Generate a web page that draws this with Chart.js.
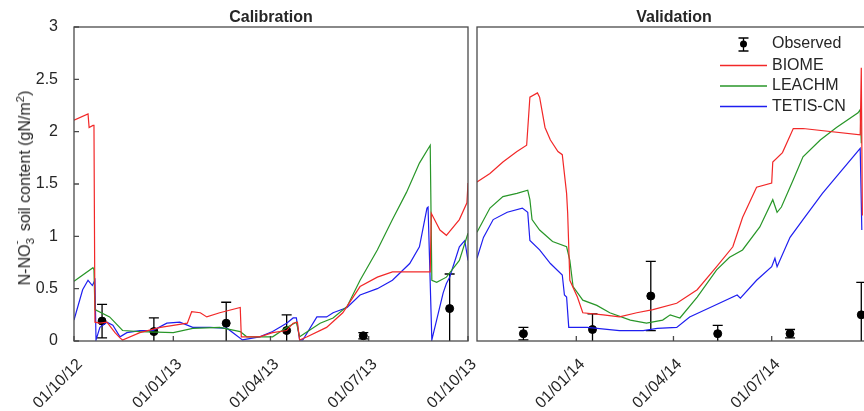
<!DOCTYPE html>
<html>
<head>
<meta charset="utf-8">
<script src="https://cdn.jsdelivr.net/npm/chart.js@4/dist/chart.umd.min.js"></script>
<style>
  html, body { margin: 0; padding: 0; background: #fff; overflow: hidden; width: 864px; height: 411px; }
  #wrap { position: relative; width: 864px; height: 411px; overflow: hidden; font-family: "Liberation Sans", Arial, sans-serif; color: #262626; }
  canvas { position: absolute; top: 0; }
  #cal { left: 0; }
  #val { left: 472px; }
  .title { position: absolute; top: 8px; font-weight: bold; font-size: 16px; transform: translateX(-50%); white-space: nowrap; }
  #ytitle { position: absolute; left: 25px; top: 188px; font-size: 16px; white-space: nowrap; transform: translate(-50%, -50%) rotate(-90deg); }
  .stk { display: inline-block; position: relative; width: 0.55em; height: 1em; vertical-align: -0.15em; }
  .stk span { position: absolute; left: 0; font-size: 0.72em; line-height: 1; }
  .stk .sp { top: -0.45em; }
  .stk .sb { top: 0.75em; }
  sup { font-size: 0.72em; line-height: 0; }
</style>
</head>
<body>
<div id="wrap">
  <canvas id="cal" width="478" height="411"></canvas>
  <canvas id="val" width="408" height="411"></canvas>
  <div class="title" style="left:271px">Calibration</div>
  <div class="title" style="left:674px">Validation</div>
  <div id="ytitle">N-NO<span class="stk"><span class="sp">-</span><span class="sb">3</span></span> soil content (gN/m<sup>2</sup>)</div>
</div>
<script>
// days counted from 01/10/12
const tickDays = [0, 92, 182, 273, 365, 457, 547, 638];
const tickLabels = ['01/10/12', '01/01/13', '01/04/13', '01/07/13', '01/10/13', '01/01/14', '01/04/14', '01/07/14'];
const yTicks = [0, 0.5, 1, 1.5, 2, 2.5, 3];

// Calibration period
const biomeCalDay = [0, 13, 14, 17.6, 18.5, 19.4, 24, 30.5, 38, 42.6, 45, 61, 80, 92, 105, 109, 117, 123, 135, 154, 155, 172, 184, 197, 203, 207, 209, 216, 234, 249, 265, 281, 295, 330, 331, 339, 345, 357, 364, 365];
const biomeCalVal = [2.11, 2.17, 2.04, 2.06, 2.06, 0.18, 0.17, 0.18, 0.08, 0.03, 0.01, 0.08, 0.13, 0.15, 0.17, 0.28, 0.27, 0.23, 0.27, 0.32, 0.04, 0.04, 0.08, 0.10, 0.17, 0.18, 0.01, 0.04, 0.13, 0.27, 0.52, 0.61, 0.66, 0.66, 1.22, 1.06, 1.01, 1.16, 1.32, 1.51];
const leachmCalDay = [0, 17.6, 18.5, 19.4, 33, 45, 61, 92, 110, 135, 154, 160, 184, 197, 206, 209, 228, 240, 253, 265, 281, 295, 308, 320, 330, 331.5, 336, 345, 357, 365];
const leachmCalVal = [0.57, 0.70, 0.68, 0.30, 0.23, 0.10, 0.09, 0.08, 0.12, 0.13, 0.09, 0.04, 0.04, 0.13, 0.18, 0.04, 0.17, 0.22, 0.33, 0.58, 0.87, 1.16, 1.42, 1.70, 1.87, 0.58, 0.56, 0.61, 0.77, 1.03];
const tetisCalDay = [0, 8, 13, 17, 19.4, 20.4, 24, 30.5, 36, 42.6, 49, 61, 73, 86, 98, 110, 126, 142, 156, 172, 184, 197, 203, 206, 209, 212, 225, 234, 240, 253, 265, 281, 295, 311, 320, 327, 328, 331.5, 342, 345, 348, 357, 362, 365];
const tetisCalVal = [0.20, 0.49, 0.58, 0.53, 0.58, 0.01, 0.13, 0.18, 0.15, 0.04, 0.08, 0.10, 0.10, 0.17, 0.18, 0.13, 0.13, 0.12, 0.01, 0.04, 0.09, 0.17, 0.22, 0.22, 0.01, 0.01, 0.23, 0.23, 0.27, 0.32, 0.44, 0.50, 0.58, 0.74, 0.90, 1.27, 1.28, 0.01, 0.46, 0.55, 0.61, 0.90, 0.96, 0.77];
const obsCalDay = [26, 74, 141, 197, 268, 348];
const obsCalVal = [0.19, 0.09, 0.17, 0.10, 0.05, 0.31];
const obsCalErr = [0.16, 0.13, 0.20, 0.15, 0.03, 0.33];

// Validation period
const biomeValDay = [365, 377, 389, 402, 411, 414, 421, 423, 428, 433, 440, 444, 448, 449, 451, 458, 463, 482, 497, 513, 528, 550, 569, 587, 602, 611, 624, 638, 639, 648, 658, 667, 720, 721, 722];
const biomeValVal = [1.52, 1.60, 1.71, 1.81, 1.87, 2.33, 2.37, 2.33, 2.04, 1.92, 1.81, 1.78, 1.41, 1.22, 0.58, 0.42, 0.27, 0.25, 0.23, 0.27, 0.30, 0.36, 0.49, 0.71, 0.90, 1.18, 1.47, 1.51, 1.71, 1.80, 2.03, 2.03, 1.97, 2.61, 1.20];
const leachmValDay = [365, 377, 389, 402, 412, 414, 416, 423, 435, 448, 451, 454, 463, 476, 488, 507, 522, 537, 544, 553, 569, 587, 599, 611, 627, 639, 643, 647, 658, 667, 683, 698, 718, 720, 721];
const leachmValVal = [1.04, 1.27, 1.38, 1.41, 1.44, 1.35, 1.16, 1.06, 0.95, 0.90, 0.77, 0.52, 0.39, 0.34, 0.27, 0.20, 0.17, 0.20, 0.25, 0.22, 0.42, 0.68, 0.80, 0.87, 1.09, 1.35, 1.23, 1.28, 1.54, 1.76, 1.92, 2.04, 2.18, 2.21, 1.89];
const tetisValDay = [365, 371, 380, 393, 407, 412, 414, 423, 433, 444, 446, 448, 450, 467, 497, 519, 532, 550, 562, 581, 606, 609, 624, 638, 641, 643, 655, 667, 685, 698, 720, 721.5];
const tetisValVal = [0.79, 0.99, 1.16, 1.23, 1.27, 1.23, 0.96, 0.87, 0.74, 0.63, 0.44, 0.42, 0.13, 0.13, 0.10, 0.10, 0.12, 0.13, 0.23, 0.32, 0.44, 0.41, 0.58, 0.71, 0.79, 0.71, 0.99, 1.16, 1.41, 1.57, 1.84, 1.06];
const obsValDay = [408, 472, 526, 588, 655, 721];
const obsValVal = [0.07, 0.11, 0.43, 0.07, 0.07, 0.25];
const obsValErr = [0.06, 0.15, 0.33, 0.08, 0.04, 0.31];

const RED = 'rgb(242, 40, 40)';
const GREEN = 'rgb(40, 150, 40)';
const BLUE = 'rgb(30, 30, 240)';
const AXIS = '#4a4a4a';
const TEXT = '#262626';
const FONT = '"Liberation Sans", Arial, sans-serif';

function pts(days, vals) {
    return days.map((d, i) => ({ x: d, y: vals[i] }));
}

function lineSet(label, days, vals, color) {
    return {
        type: 'line', label: label, data: pts(days, vals),
        borderColor: color, borderWidth: 1.2, pointRadius: 0, tension: 0, fill: false
    };
}

function obsSet(days, vals, errs) {
    return {
        type: 'scatter', label: 'Observed', data: pts(days, vals), errors: errs,
        backgroundColor: '#000', borderColor: '#000', pointRadius: 4, pointHoverRadius: 4
    };
}

// box around the panel with inward tick marks
const frame = {
    id: 'frame',
    afterDraw(chart) {
        const { ctx, chartArea: a, scales } = chart;
        ctx.save();
        ctx.strokeStyle = AXIS;
        ctx.lineWidth = 1.3;
        ctx.strokeRect(a.left, a.top, a.right - a.left, a.bottom - a.top);
        ctx.beginPath();
        scales.x.ticks.forEach(t => {
            const px = scales.x.getPixelForValue(t.value);
            ctx.moveTo(px, a.bottom);
            ctx.lineTo(px, a.bottom - 5);
        });
        if (scales.y.options.display) {
            yTicks.forEach(v => {
                const py = scales.y.getPixelForValue(v);
                ctx.moveTo(a.left, py);
                ctx.lineTo(a.left + 5, py);
            });
        }
        ctx.stroke();
        ctx.restore();
    }
};

// vertical error bars for observed points
const errorBars = {
    id: 'errorBars',
    beforeDatasetsDraw(chart) {
        const { ctx, chartArea: a, scales } = chart;
        ctx.save();
        ctx.beginPath();
        ctx.rect(a.left, a.top, a.right - a.left, a.bottom - a.top);
        ctx.clip();
        ctx.strokeStyle = '#000';
        ctx.lineWidth = 1.3;
        chart.data.datasets.forEach(ds => {
            if (!ds.errors) return;
            ds.data.forEach((p, i) => {
                const px = scales.x.getPixelForValue(p.x);
                const hi = scales.y.getPixelForValue(p.y + ds.errors[i]);
                const lo = scales.y.getPixelForValue(p.y - ds.errors[i]);
                ctx.beginPath();
                ctx.moveTo(px, hi); ctx.lineTo(px, lo);
                ctx.moveTo(px - 5, hi); ctx.lineTo(px + 5, hi);
                ctx.moveTo(px - 5, lo); ctx.lineTo(px + 5, lo);
                ctx.stroke();
            });
        });
        ctx.restore();
    }
};

// legend drawn inside the validation panel
const legendBox = {
    id: 'legendBox',
    afterDraw(chart) {
        const ctx = chart.ctx;
        const x0 = 248, x1 = 295, tx = 300;
        const rows = [
            { label: 'Observed', y: 44 },
            { label: 'BIOME', y: 65.5, color: RED },
            { label: 'LEACHM', y: 86, color: GREEN },
            { label: 'TETIS-CN', y: 106.5, color: BLUE }
        ];
        ctx.save();
        ctx.font = '16px ' + FONT;
        ctx.fillStyle = TEXT;
        ctx.textBaseline = 'middle';
        rows.forEach(r => {
            if (r.color) {
                ctx.strokeStyle = r.color;
                ctx.lineWidth = 1.4;
                ctx.beginPath();
                ctx.moveTo(x0, r.y); ctx.lineTo(x1, r.y);
                ctx.stroke();
            } else {
                const cx = (x0 + x1) / 2;
                ctx.strokeStyle = '#000';
                ctx.lineWidth = 1.3;
                ctx.beginPath();
                ctx.moveTo(cx, r.y - 6); ctx.lineTo(cx, r.y + 7);
                ctx.moveTo(cx - 5, r.y - 6); ctx.lineTo(cx + 5, r.y - 6);
                ctx.moveTo(cx - 5, r.y + 7); ctx.lineTo(cx + 5, r.y + 7);
                ctx.stroke();
                ctx.fillStyle = '#000';
                ctx.beginPath();
                ctx.arc(cx, r.y, 3.5, 0, Math.PI * 2);
                ctx.fill();
                ctx.fillStyle = TEXT;
            }
            ctx.fillText(r.label, tx, r.y);
        });
        ctx.restore();
    }
};

function xAxis(min, max, showFirst) {
    return {
        type: 'linear', min: min, max: max,
        grid: { display: false },
        border: { display: false },
        afterBuildTicks: scale => {
            scale.ticks = tickDays
                .filter(d => d >= min && d <= max && (showFirst || d > min))
                .map(d => ({ value: d }));
        },
        afterFit: scale => {
            scale.height = 70;
            scale.paddingLeft = 0;
            scale.paddingRight = 0;
        },
        ticks: {
            autoSkip: false, minRotation: 45, maxRotation: 45,
            padding: 6, labelOffset: 6,
            color: TEXT, font: { family: FONT, size: 16 },
            callback: v => tickLabels[tickDays.indexOf(v)]
        }
    };
}

function yAxis(show) {
    const axis = {
        display: show, min: 0, max: 3,
        grid: { display: false },
        border: { display: false },
        afterBuildTicks: scale => { scale.ticks = yTicks.map(v => ({ value: v })); },
        ticks: {
            padding: 8, color: TEXT, font: { family: FONT, size: 16 },
            callback: v => String(v)
        }
    };
    if (show) axis.afterFit = scale => { scale.width = 74; };
    return axis;
}

const common = {
    responsive: false,
    animation: false,
    devicePixelRatio: 1,
    plugins: { legend: { display: false }, tooltip: { enabled: false } }
};

document.addEventListener('DOMContentLoaded', function() {
    // Calibration panel
    new Chart(document.getElementById('cal').getContext('2d'), {
        data: {
            datasets: [
                lineSet('BIOME', biomeCalDay, biomeCalVal, RED),
                lineSet('LEACHM', leachmCalDay, leachmCalVal, GREEN),
                lineSet('TETIS-CN', tetisCalDay, tetisCalVal, BLUE),
                obsSet(obsCalDay, obsCalVal, obsCalErr)
            ]
        },
        options: Object.assign({}, common, {
            layout: { padding: { top: 27, right: 10, left: 0, bottom: 0 } },
            scales: { x: xAxis(0, 365, true), y: yAxis(true) }
        }),
        plugins: [errorBars, frame]
    });

    // Validation panel
    new Chart(document.getElementById('val').getContext('2d'), {
        data: {
            datasets: [
                lineSet('BIOME', biomeValDay, biomeValVal, RED),
                lineSet('LEACHM', leachmValDay, leachmValVal, GREEN),
                lineSet('TETIS-CN', tetisValDay, tetisValVal, BLUE),
                obsSet(obsValDay, obsValVal, obsValErr)
            ]
        },
        options: Object.assign({}, common, {
            layout: { padding: { top: 27, right: 9, left: 5, bottom: 0 } },
            scales: { x: xAxis(365, 730, false), y: yAxis(false) }
        }),
        plugins: [errorBars, frame, legendBox]
    });
});
</script>
</body>
</html>
